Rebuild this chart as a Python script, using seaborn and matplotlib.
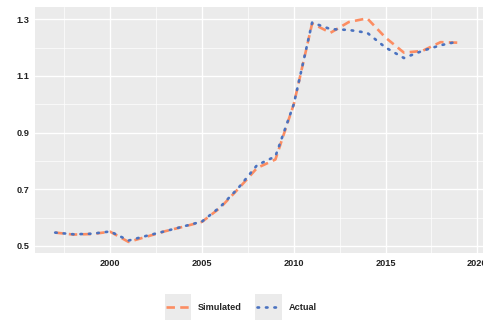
import numpy as np
import pandas as pd
import matplotlib
matplotlib.use("Agg")
import matplotlib.pyplot as plt
import seaborn as sns
from matplotlib.legend_handler import HandlerLine2D
from matplotlib.lines import Line2D
from matplotlib.patches import Rectangle

# data
years = list(range(1997, 2020))
simulated = [0.547, 0.540, 0.542, 0.550, 0.514, 0.533, 0.552, 0.568, 0.585,
             0.635, 0.703, 0.775, 0.805, 1.000, 1.285, 1.252, 1.290, 1.303,
             1.235, 1.182, 1.188, 1.219, 1.217]
actual = [0.547, 0.541, 0.543, 0.551, 0.519, 0.536, 0.552, 0.569, 0.586,
          0.638, 0.706, 0.785, 0.816, 1.000, 1.288, 1.265, 1.262, 1.252,
          1.200, 1.163, 1.188, 1.208, 1.222]
series = ["Simulated", "Actual"]
x_ticks = [2000, 2005, 2010, 2015, 2020]
y_ticks = [0.5, 0.7, 0.9, 1.1, 1.3]

sim_color = "#FC8D62"
act_color = "#4A72C0"
sim_dash = (3.2, 2.0)
act_dash = (0.6, 2.6)

df = pd.DataFrame({
    "year": years * 2,
    "value": simulated + actual,
    "series": [series[0]] * len(years) + [series[1]] * len(years),
})

sns.set_theme(style="darkgrid", rc={"axes.facecolor": "#EBEBEB",
                                    "grid.color": "white"})
plt.rcParams["font.family"] = ["Liberation Sans", "DejaVu Sans"]

fig = plt.figure(figsize=(4.83, 3.2), dpi=100)
W, H = 483, 320
ax = fig.add_axes([35 / W, (H - 253) / H, (W - 35) / W, (253 - 7) / H])

sns.lineplot(data=df, x="year", y="value", hue="series", style="series",
             palette={"Simulated": sim_color, "Actual": act_color},
             dashes={"Simulated": sim_dash, "Actual": act_dash},
             linewidth=1.9, legend=False, ax=ax)
ax.lines[1].set_dash_capstyle("round")

ax.set_xlim(1995.9, 2020.31)
ax.set_ylim(0.475, 1.343)
ax.set_xticks(x_ticks)
ax.set_yticks(y_ticks)
ax.set_xticks([1997.5, 2002.5, 2007.5, 2012.5, 2017.5], minor=True)
ax.set_yticks([0.6, 0.8, 1.0, 1.2], minor=True)
ax.grid(which="major", color="white", linewidth=1.0)
ax.grid(which="minor", color="white", linewidth=0.5)
ax.set_xticklabels([str(t) for t in x_ticks], fontsize=6.6,
                   fontweight="bold", color="#222222")
ax.set_yticklabels([f"{t:.1f}" for t in y_ticks], fontsize=6.6,
                   fontweight="bold", color="#222222")
ax.tick_params(which="major", length=2.5, width=0.6, color="#333333", pad=1.5)
ax.tick_params(which="minor", length=0)
ax.set_xlabel("")
ax.set_ylabel("")
for s in ax.spines.values():
    s.set_visible(False)


class KeyHandler(HandlerLine2D):
    # grey key box behind each legend line, ggplot style
    def create_artists(self, legend, orig_handle, xdescent, ydescent,
                       width, height, fontsize, trans):
        bg = Rectangle((-xdescent - 1, -ydescent - 7), width + 2, height + 14,
                       facecolor="#EBEBEB", edgecolor="none", transform=trans)
        arts = super().create_artists(legend, orig_handle, xdescent, ydescent,
                                      width, height, fontsize, trans)
        return [bg] + list(arts)


handles = [Line2D([], [], color=sim_color, lw=1.9, dashes=sim_dash),
           Line2D([], [], color=act_color, lw=1.9, dashes=act_dash,
                  dash_capstyle="round")]
fig.legend(handles, series, loc="center", bbox_to_anchor=(0.5, 1 - 308 / H),
           ncol=2, frameon=False, handlelength=2.6, handletextpad=0.9,
           columnspacing=1.6, prop={"size": 6.6, "weight": "bold"},
           handler_map={Line2D: KeyHandler()})

fig.savefig("out.png", dpi=100)
